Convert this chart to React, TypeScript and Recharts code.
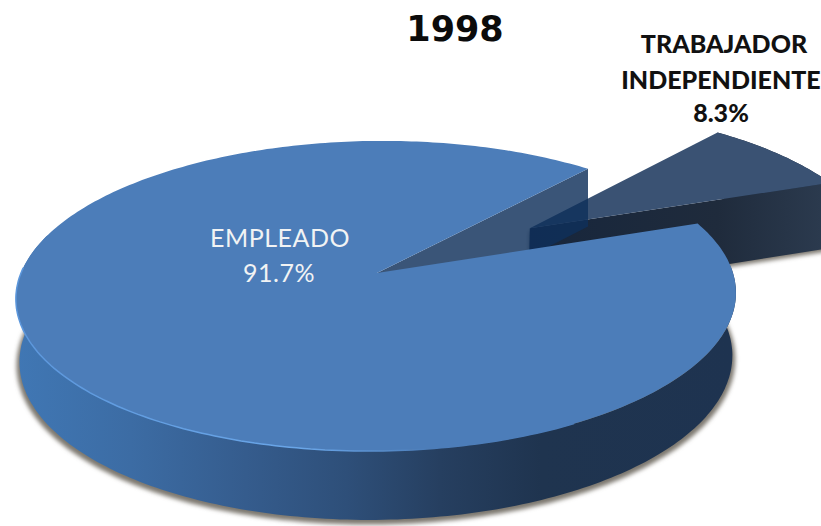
import { PieChart, Pie } from "recharts";

const categories = ["TRABAJADOR INDEPENDIENTE", "EMPLEADO"];
const shares = [8.3, 91.7];
const chartTitle = "1998";

const pieData = categories.map((name, i) => ({ name, value: shares[i] }));

// look of the tilted disc
const TILT = 0.426;
const PERSPECTIVE = 0.148;
const SHEAR = 0.02;
const DEPTH = 62;
const DEPTH_PERSPECTIVE = 0.1;
const BOTTOM_NARROW = 0.99;
const EXPLODE = 0.54;
const WEDGE_DEPTH = 1.13;

const rad = (deg: number) => (deg * Math.PI) / 180;

// disc coordinates -> screen, z = 0 top face, z = 1 bottom face
const project = (p: any, u: number, v: number, z = 0) => {
  const w = 1 + PERSPECTIVE * v;
  const x =
    p.cx + (p.outerRadius * (u * (z ? BOTTOM_NARROW : 1) + SHEAR * v)) / w;
  const y =
    p.cy -
    (p.outerRadius * TILT * v) / w +
    (z * DEPTH) / (1 + DEPTH_PERSPECTIVE * v);
  return [x, y];
};

const arc = (p: any, from: number, to: number, z = 0, off = [0, 0], scale = 1) => {
  const pts = [];
  const steps = Math.ceil(Math.abs(to - from));
  for (let i = 0; i <= steps; i++) {
    const a = rad(from + ((to - from) * i) / steps);
    pts.push(
      project(p, off[0] + scale * Math.cos(a), off[1] + scale * Math.sin(a), z)
    );
  }
  return pts;
};

const toPath = (pts: number[][]) =>
  "M" + pts.map((q) => q[0].toFixed(1) + "," + q[1].toFixed(1)).join("L") + "Z";

const openPath = (pts: number[][]) =>
  "M" + pts.map((q) => q[0].toFixed(1) + "," + q[1].toFixed(1)).join("L");

const isWedge = (p: any) => p.name === categories[0];

// main slice: shadow and outer wall
const BaseShape = (p: any) => {
  if (isWedge(p)) return <g />;
  const shadow = arc(p, 170, p.endAngle - 10, 1, [0, 0], 1.008).map((q) => [
    q[0],
    q[1] + 3,
  ]);
  const wall = [
    ...arc(p, 165, p.endAngle, 0),
    ...arc(p, p.endAngle, 165, 1),
  ];
  return (
    <g>
      <path d={toPath(shadow)} fill="#7d7870" filter="url(#soft)" />
      <path d={toPath(wall)} fill="url(#wallFill)" />
    </g>
  );
};

// exploded slice
const WedgeShape = (p: any) => {
  if (!isWedge(p)) return <g />;
  const mid = rad((p.startAngle + p.endAngle) / 2);
  const off = [EXPLODE * Math.cos(mid), EXPLODE * Math.sin(mid)];
  const apex = project(p, off[0], off[1]);
  const apexLow = project(p, off[0], off[1], WEDGE_DEPTH);
  const rim = arc(p, p.startAngle, p.endAngle, 0, off);
  const rimLow = arc(p, p.startAngle, p.endAngle, WEDGE_DEPTH, off);
  const face = [apex, ...rim];
  const side = [apex, rim[0], rimLow[0], apexLow];
  const outer = [...rim, ...[...rimLow].reverse()];
  return (
    <g>
      <path
        d={toPath(side.map((q) => [q[0], q[1] + 3]))}
        fill="#7d7870"
        filter="url(#soft)"
      />
      <path d={toPath(outer)} fill="#1f2b3c" />
      <path d={toPath(side)} fill="url(#wedgeSide)" />
      <path d={toPath(face)} fill="#3a5273" />
    </g>
  );
};

// main slice: cut wall seen through the gap, then the top face and its label
const TopShape = (p: any) => {
  if (isWedge(p)) return <g />;
  const a = rad(p.startAngle);
  const apex = project(p, 0, 0);
  const apexLow = project(p, 0, 0, 1);
  const top = project(p, Math.cos(a), Math.sin(a));
  const low = [top[0], project(p, Math.cos(a), Math.sin(a), 1)[1]];
  const rim = arc(p, p.startAngle, p.endAngle, 0);
  return (
    <g>
      <path
        d={toPath([apex, top, low, apexLow])}
        fill="#0f2f5a"
        fillOpacity={0.82}
      />
      <path d={toPath([apex, ...rim])} fill="#4c7db9" />
      <path
        d={openPath(arc(p, 178, 300, 0))}
        fill="none"
        stroke="url(#rimFill)"
        strokeWidth={1.5}
      />
      <text
        textAnchor="middle"
        fontFamily="Lato"
        fontSize={25}
        letterSpacing={0.5}
        fill="#f1f3f4"
      >
        <tspan x={280} y={247}>{p.name}</tspan>
        <tspan x={279} y={282}>{p.value}%</tspan>
      </text>
    </g>
  );
};

export default function App() {
  return (
    <div
      style={{
        position: "absolute",
        left: 0,
        top: 0,
        width: 821,
        height: 526,
        overflow: "hidden",
        background: "#fff",
      }}
    >
      <PieChart
        width={821}
        height={526}
        margin={{ top: 0, right: 0, bottom: 0, left: 0 }}
      >
        <defs>
          <filter id="soft" x="-5%" y="-5%" width="110%" height="110%">
            <feGaussianBlur stdDeviation="2" />
          </filter>
          <linearGradient id="wallFill" gradientUnits="userSpaceOnUse" x1={16} y1={0} x2={735} y2={0}>
            <stop offset="0%" stopColor="#4077b4" />
            <stop offset="16%" stopColor="#3c6ca4" />
            <stop offset="32%" stopColor="#355c8d" />
            <stop offset="46%" stopColor="#2e4f79" />
            <stop offset="59%" stopColor="#263f60" />
            <stop offset="73%" stopColor="#1f344f" />
            <stop offset="100%" stopColor="#1e3350" />
          </linearGradient>
          <linearGradient id="wedgeSide" gradientUnits="userSpaceOnUse" x1={527} y1={0} x2={821} y2={0}>
            <stop offset="0%" stopColor="#17263c" />
            <stop offset="65%" stopColor="#1f2b3c" />
            <stop offset="100%" stopColor="#2b3a4e" />
          </linearGradient>
          <linearGradient id="rimFill" gradientUnits="userSpaceOnUse" x1={16} y1={0} x2={430} y2={0}>
            <stop offset="0%" stopColor="#5c97dc" />
            <stop offset="70%" stopColor="#6aa6e8" />
            <stop offset="100%" stopColor="#4c7db9" />
          </linearGradient>
        </defs>
        {[BaseShape, WedgeShape, TopShape].map((shape, i) => (
          <Pie
            key={i}
            data={pieData}
            dataKey="value"
            nameKey="name"
            cx={377}
            cy={273}
            outerRadius={356}
            startAngle={20}
            endAngle={380}
            stroke="none"
            shape={shape}
            inactiveShape={shape}
            isAnimationActive={false}
          />
        ))}
        <text
          x={455}
          y={41}
          textAnchor="middle"
          fontFamily="DejaVu Sans"
          fontWeight={700}
          fontSize={35}
          fill="#0b0b0b"
        >
          {chartTitle}
        </text>
        <text
          textAnchor="middle"
          fontFamily="Lato"
          fontWeight={900}
          fontSize={25}
          fill="#111"
        >
          <tspan x={724} y={53}>{categories[0].split(" ")[0]}</tspan>
          <tspan x={721} y={89}>{categories[0].split(" ")[1]}</tspan>
          <tspan x={721} y={122}>{shares[0]}%</tspan>
        </text>
      </PieChart>
    </div>
  );
}
